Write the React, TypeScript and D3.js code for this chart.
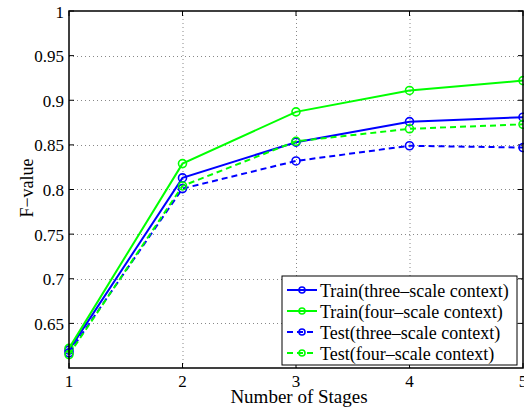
import React, { useEffect, useRef } from 'react';
import * as d3 from 'd3';

const stages = [1, 2, 3, 4, 5];
const trainThree = [0.620, 0.813, 0.853, 0.876, 0.881];
const trainFour = [0.622, 0.829, 0.887, 0.911, 0.922];
const testThree = [0.617, 0.801, 0.832, 0.849, 0.847];
const testFour = [0.615, 0.804, 0.854, 0.868, 0.873];
const yTicks = [0.65, 0.7, 0.75, 0.8, 0.85, 0.9, 0.95, 1];
const xTicks = [1, 2, 3, 4, 5];

const seriesList = [
    { name: 'Train(three\u2013scale context)', values: trainThree, color: '#0000ff', dash: null },
    { name: 'Train(four\u2013scale context)', values: trainFour, color: '#00ff00', dash: null },
    { name: 'Test(three\u2013scale context)', values: testThree, color: '#0000ff', dash: '6,4' },
    { name: 'Test(four\u2013scale context)', values: testFour, color: '#00ff00', dash: '6,4' }
];

const App = () => {
    const ref = useRef<SVGSVGElement>(null);

    useEffect(() => {
        const svg = d3.select(ref.current);
        svg.selectAll('*').remove();

        const left = 69, right = 523, top = 11, bottom = 368;

        const x = d3.scaleLinear().domain([1, 5]).range([left, right]);
        const y = d3.scaleLinear().domain([0.6, 1]).range([bottom, top]);

        svg.append('rect')
            .attr('x', left).attr('y', top)
            .attr('width', right - left).attr('height', bottom - top)
            .attr('fill', 'white');

        // dotted grid
        const grid = svg.append('g').attr('stroke', '#888').attr('stroke-width', 1).attr('stroke-dasharray', '1,3');
        grid.selectAll('.gx').data(xTicks.slice(1, -1)).enter().append('line')
            .attr('x1', d => x(d) + 0.5).attr('x2', d => x(d) + 0.5)
            .attr('y1', top).attr('y2', bottom);
        grid.selectAll('.gy').data(yTicks.slice(0, -1)).enter().append('line')
            .attr('x1', left).attr('x2', right)
            .attr('y1', d => Math.round(y(d)) + 0.5).attr('y2', d => Math.round(y(d)) + 0.5);

        // inner ticks on all sides
        const ticks = svg.append('g').attr('stroke', 'black').attr('stroke-width', 1);
        ticks.selectAll('.tb').data(xTicks).enter().append('line')
            .attr('x1', d => x(d)).attr('x2', d => x(d)).attr('y1', bottom).attr('y2', bottom - 5);
        ticks.selectAll('.tt').data(xTicks).enter().append('line')
            .attr('x1', d => x(d)).attr('x2', d => x(d)).attr('y1', top).attr('y2', top + 5);
        ticks.selectAll('.tl').data(yTicks).enter().append('line')
            .attr('x1', left).attr('x2', left + 5).attr('y1', d => y(d)).attr('y2', d => y(d));
        ticks.selectAll('.tr').data(yTicks).enter().append('line')
            .attr('x1', right).attr('x2', right - 5).attr('y1', d => y(d)).attr('y2', d => y(d));

        const line = d3.line<number>()
            .x((_, i) => x(stages[i]))
            .y(d => y(d));

        seriesList.forEach(s => {
            svg.append('path')
                .datum(s.values)
                .attr('d', line)
                .attr('fill', 'none')
                .attr('stroke', s.color)
                .attr('stroke-width', 2)
                .attr('stroke-dasharray', s.dash);
            svg.selectAll(null)
                .data(s.values).enter().append('circle')
                .attr('cx', (_, i) => x(stages[i]))
                .attr('cy', d => y(d))
                .attr('r', 4)
                .attr('fill', 'none')
                .attr('stroke', s.color)
                .attr('stroke-width', 1.6);
        });

        // axes box
        svg.append('rect')
            .attr('x', left).attr('y', top)
            .attr('width', right - left).attr('height', bottom - top)
            .attr('fill', 'none').attr('stroke', 'black').attr('stroke-width', 1.5);

        const txt = svg.append('g').attr('class', 'txt');

        // tick labels
        txt.selectAll('.xl').data(xTicks).enter().append('text')
            .attr('x', d => x(d)).attr('y', bottom + 19)
            .attr('text-anchor', 'middle')
            .attr('font-size', 17)
            .text(d => d);
        txt.selectAll('.yl').data(yTicks).enter().append('text')
            .attr('x', left - 5).attr('y', d => y(d) + 6.5)
            .attr('text-anchor', 'end')
            .attr('font-size', 17)
            .text(d => d);

        txt.append('text')
            .attr('x', 299).attr('y', 403)
            .attr('text-anchor', 'middle')
            .attr('font-size', 19)
            .text('Number of Stages');
        txt.append('text')
            .attr('transform', 'translate(33,188) rotate(-90)')
            .attr('text-anchor', 'middle')
            .attr('font-size', 18)
            .text('F\u2212value');

        // legend
        const lg = txt.append('g').attr('transform', 'translate(282,276)');
        lg.append('rect')
            .attr('width', 235).attr('height', 89)
            .attr('fill', 'white').attr('stroke', 'black').attr('stroke-width', 1);
        seriesList.forEach((s, i) => {
            const ry = 14 + i * 21;
            lg.append('line')
                .attr('x1', 5).attr('x2', 35).attr('y1', ry).attr('y2', ry)
                .attr('stroke', s.color).attr('stroke-width', 2)
                .attr('stroke-dasharray', s.dash);
            lg.append('circle')
                .attr('cx', 20).attr('cy', ry).attr('r', 3)
                .attr('fill', 'none').attr('stroke', s.color).attr('stroke-width', 1.6);
            lg.append('text')
                .attr('x', 38).attr('y', ry + 6.5)
                .attr('font-size', 18)
                .text(s.name);
        });

        txt.selectAll('text')
            .style('font-family', '"Liberation Serif", "DejaVu Serif", "Times New Roman", Times, serif');
    }, []);

    return (
        <svg ref={ref} width={524} height={410}
            style={{ position: 'absolute', left: 0, top: 0, background: 'white' }} />
    );
};

export default App;
